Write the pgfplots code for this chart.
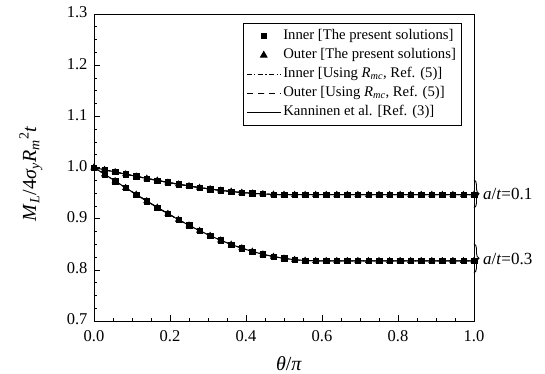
\documentclass[border=0pt]{standalone}
\usepackage{pgfplots}
\usepackage{pgfplotstable}
\pgfplotsset{compat=1.18}
\usepackage{fontspec}
\setmainfont{Liberation Serif}
\usetikzlibrary{decorations.pathreplacing}

\pgfplotstableread{
x a1 a3
0.0000 1.0000 1.0000
0.0278 0.9956 0.9868
0.0556 0.9913 0.9736
0.0833 0.9870 0.9604
0.1111 0.9827 0.9473
0.1389 0.9786 0.9345
0.1667 0.9747 0.9219
0.1944 0.9709 0.9098
0.2222 0.9673 0.8981
0.2500 0.9639 0.8870
0.2778 0.9607 0.8765
0.3056 0.9579 0.8668
0.3333 0.9553 0.8578
0.3611 0.9531 0.8496
0.3889 0.9511 0.8423
0.4167 0.9496 0.8359
0.4444 0.9483 0.8304
0.4722 0.9474 0.8259
0.5000 0.9469 0.8224
0.5278 0.9468 0.8198
0.5556 0.9468 0.8182
0.5833 0.9468 0.8176
0.6111 0.9468 0.8176
0.6389 0.9468 0.8176
0.6667 0.9468 0.8176
0.6944 0.9468 0.8176
0.7222 0.9468 0.8176
0.7500 0.9468 0.8176
0.7778 0.9468 0.8176
0.8056 0.9468 0.8176
0.8333 0.9468 0.8176
0.8611 0.9468 0.8176
0.8889 0.9468 0.8176
0.9167 0.9468 0.8176
0.9444 0.9468 0.8176
0.9722 0.9468 0.8176
1.0000 0.9468 0.8176
}\datatab

\newcommand{\legfont}{\fontsize{14.7}{16}\selectfont}

\begin{document}
\begin{tikzpicture}
\path[use as bounding box] (-94pt,-53pt) rectangle (451pt,321pt);
\begin{axis}[
  at={(0pt,0pt)}, anchor=south west,
  scale only axis, width=380pt, height=307pt,
  xmin=0, xmax=1, ymin=0.7, ymax=1.3,
  xtick={0,0.2,...,1.0}, ytick={0.7,0.8,...,1.3},
  minor x tick num=3, minor y tick num=3,
  xtick pos=bottom, ytick pos=left,
  tick align=inside,
  major tick length=6pt, minor tick length=3pt,
  every tick/.style={black, line width=0.6pt},
  axis line style={black, line width=0.9pt},
  /pgf/number format/assume math mode=true,
  /pgf/number format/fixed,
  /pgf/number format/fixed zerofill,
  /pgf/number format/precision=1,
  tick label style={font=\fontsize{16.5}{18}\selectfont},
  xticklabel style={yshift=-6pt},
  yticklabel style={xshift=-3pt, yshift=1.5pt},
  xlabel={\textit{θ}/\textit{π}},
  ylabel={\textit{M}\textsubscript{\textit{L}}/4\textit{σ}\textsubscript{\textit{y}}\textit{R}\textsubscript{\textit{m}}\textsuperscript{2}\textit{t}},
  label style={font=\fontsize{20}{22}\selectfont},
  xlabel style={at={(axis description cs:0.513,-0.14)}, anchor=center},
  ylabel style={at={(axis description cs:-0.166,0.479)}, anchor=center},
  clip=false,
  legend style={at={(axis description cs:0.392,0.971)}, anchor=north west,
    draw=black, line width=0.6pt, font=\legfont,
    row sep=0pt, inner xsep=3pt, inner ysep=3.5pt, cells={anchor=west},
    nodes={inner ysep=2pt, text height=11pt, text depth=4pt}},
  legend image code/.code={\draw[mark repeat=2, mark phase=2] plot coordinates {(0pt,0pt) (17pt,0pt) (34pt,0pt)};},
  legend image post style={line width=1pt},
  legend cell align=left,
]
% markers
\addplot[only marks, mark=square*, mark size=2.7pt, black] table[x=x,y=a1]{\datatab};
\addlegendentry{\legfont Inner [The present solutions]}
\addplot[only marks, mark=triangle*, mark size=3.6pt, black] table[x=x,y=a1]{\datatab};
\addlegendentry{\legfont Outer [The present solutions]}
\addplot[black, line width=1pt, dash pattern=on 5pt off 2.5pt on 1.2pt off 2.5pt] table[x=x,y=a1]{\datatab};
\addlegendentry{\legfont Inner [Using \textit{R}\textsubscript{\textit{mc}}, Ref. (5)]}
\addplot[black, line width=1pt, dash pattern=on 6pt off 5pt] table[x=x,y=a1]{\datatab};
\addlegendentry{\legfont Outer [Using \textit{R}\textsubscript{\textit{mc}}, Ref. (5)]}
\addplot[black, line width=1pt] table[x=x,y=a1]{\datatab};
\addlegendentry{\legfont Kanninen et al. [Ref. (3)]}
% second crack depth
\addplot[forget plot, only marks, mark=square*, mark size=2.7pt, black] table[x=x,y=a3]{\datatab};
\addplot[forget plot, only marks, mark=triangle*, mark size=3.6pt, black] table[x=x,y=a3]{\datatab};
\addplot[forget plot, black, line width=1pt, dash pattern=on 5pt off 2.5pt on 1.2pt off 2.5pt] table[x=x,y=a3]{\datatab};
\addplot[forget plot, black, line width=1pt, dash pattern=on 6pt off 5pt] table[x=x,y=a3]{\datatab};
\addplot[forget plot, black, line width=1pt] table[x=x,y=a3]{\datatab};
% braces and labels
\draw[black, line width=0.9pt, decorate, decoration={brace, amplitude=5pt}] (axis cs:1,0.976) -- (axis cs:1,0.921);
\node[anchor=west, font=\fontsize{17}{18}\selectfont, inner sep=0pt] at ([xshift=9pt]axis cs:1,0.948) {\textit{a}/\textit{t}=0.1};
\draw[black, line width=0.9pt, decorate, decoration={brace, amplitude=5pt}] (axis cs:1,0.851) -- (axis cs:1,0.794);
\node[anchor=west, font=\fontsize{17}{18}\selectfont, inner sep=0pt] at ([xshift=9pt]axis cs:1,0.822) {\textit{a}/\textit{t}=0.3};
\end{axis}
\end{tikzpicture}
\end{document}
